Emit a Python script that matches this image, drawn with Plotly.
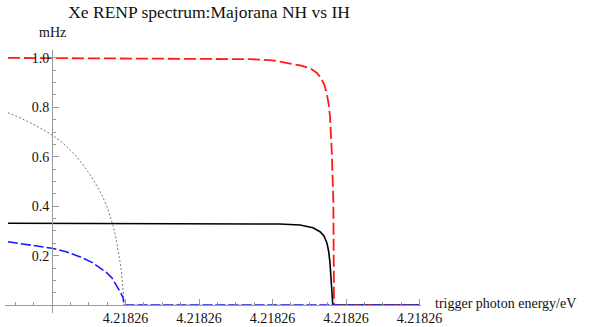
import plotly.graph_objects as go

# x in units of one major tick step (labels all read 4.21826), y-axis at x=0
x_red = [-0.6, 0.5, 1.5, 2.2, 2.694, 3.0, 3.238, 3.374, 3.51, 3.6, 3.646, 3.7, 3.737, 3.765, 3.782, 3.805, 3.827, 3.835, 3.837, 5.0]
y_red = [1.0, 0.999, 0.998, 0.997, 0.995, 0.99, 0.979, 0.97, 0.958, 0.94, 0.924, 0.895, 0.857, 0.81, 0.762, 0.628, 0.425, 0.2, 0.0, 0.0]

x_black = [-0.6, 1.0, 2.0, 2.694, 3.1, 3.374, 3.55, 3.646, 3.70, 3.741, 3.765, 3.782, 3.805, 3.815, 3.82, 5.0]
y_black = [0.331, 0.331, 0.330, 0.330, 0.328, 0.324, 0.313, 0.297, 0.28, 0.25, 0.215, 0.17, 0.08, 0.03, 0.0, 0.0]

x_blue = [-0.6, -0.3, 0.0, 0.204, 0.422, 0.55, 0.653, 0.74, 0.816, 0.86, 0.898, 0.935, 0.966, 0.98, 5.0]
y_blue = [0.256, 0.244, 0.23, 0.215, 0.19, 0.172, 0.15, 0.132, 0.11, 0.09, 0.068, 0.05, 0.03, 0.0, 0.0]

x_gray = [-0.6, -0.45, -0.3, -0.15, 0.0, 0.1, 0.204, 0.3, 0.422, 0.53, 0.612, 0.69, 0.748, 0.79, 0.83,
          0.865, 0.898, 0.925, 0.945, 0.96, 0.972, 0.978, 0.98, 5.0]
y_gray = [0.778, 0.76, 0.738, 0.715, 0.688, 0.667, 0.64, 0.612, 0.567, 0.522, 0.482, 0.438, 0.397, 0.362, 0.322,
          0.28, 0.228, 0.175, 0.13, 0.09, 0.05, 0.02, 0.0, 0.0]

x_ticks = [1, 2, 3, 4, 5]
x_ticktext = ["4.21826"] * 5
y_ticks = [0.2, 0.4, 0.6, 0.8, 1.0]
y_ticktext = ["0.2", "0.4", "0.6", "0.8", "1.0"]

FONT = "Liberation Serif"
AXIS = "#9a9a9a"

X0, X1 = -0.64, 5.02
Y0, Y1 = -0.032, 1.032

fig = go.Figure()
fig.add_trace(go.Scatter(x=x_black, y=y_black, mode="lines",
                         line=dict(color="black", width=1.6)))
fig.add_trace(go.Scatter(x=x_red, y=y_red, mode="lines",
                         line=dict(color="#ff1a1a", width=1.8, dash="12px,4px")))
fig.add_trace(go.Scatter(x=x_blue, y=y_blue, mode="lines",
                         line=dict(color="#1a1aff", width=1.6, dash="10px,3px")))
fig.add_trace(go.Scatter(x=x_gray, y=y_gray, mode="lines",
                         line=dict(color="#555555", width=0.8, dash="2px,2px")))

fig.update_layout(
    width=589, height=327,
    margin=dict(l=5, r=168, t=50, b=14),
    paper_bgcolor="white", plot_bgcolor="white",
    showlegend=False,
    font=dict(family=FONT, size=14, color="#111"),
    title=dict(text="Xe RENP spectrum:Majorana NH vs IH", xref="container", yref="container",
               x=0.355, y=0.963, xanchor="center", yanchor="middle",
               font=dict(family=FONT, size=17.5, color="#111")),
    xaxis=dict(range=[X0, X1], anchor="free", position=(0 - Y0) / (Y1 - Y0), automargin=False,
               showgrid=False, zeroline=False, showline=True, linecolor=AXIS, linewidth=1,
               tickvals=x_ticks, ticktext=x_ticktext, ticks="inside", ticklen=6,
               tickcolor=AXIS, tickfont=dict(family=FONT, size=14, color="#111"),
               minor=dict(tick0=0, dtick=0.25, ticks="inside", ticklen=3, tickcolor=AXIS)),
    yaxis=dict(range=[Y0, Y1], anchor="free", position=(0 - X0) / (X1 - X0), automargin=False,
               showgrid=False, zeroline=False, showline=True, linecolor=AXIS, linewidth=1,
               tickvals=y_ticks, ticktext=y_ticktext, ticks="inside", ticklen=6,
               tickcolor=AXIS, tickfont=dict(family=FONT, size=14, color="#111"),
               minor=dict(tick0=0, dtick=0.05, ticks="inside", ticklen=3, tickcolor=AXIS)),
    annotations=[
        dict(text="mHz", x=0, xref="x", y=1.065, yref="paper", showarrow=False,
             xanchor="center", yanchor="middle", font=dict(family=FONT, size=14, color="#111")),
        dict(text="trigger photon energy/eV", x=1.03, xref="paper", y=0.038, yref="paper",
             showarrow=False, xanchor="left", yanchor="middle",
             font=dict(family=FONT, size=14, color="#111")),
    ],
)

# page body has a default margin; drop it so the figure sits at the window's corner
fig.write_html("out.html", config={"displayModeBar": False},
               post_script="document.body.style.margin='0';")
